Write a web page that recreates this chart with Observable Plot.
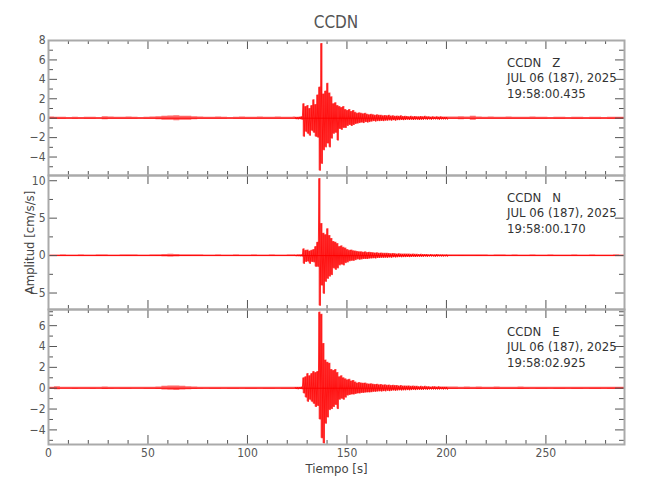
<!DOCTYPE html>
<html><head><meta charset="utf-8">
<script src="https://cdn.jsdelivr.net/npm/d3@7"></script>
<script src="https://cdn.jsdelivr.net/npm/@observablehq/plot@0.6"></script>
<style>
body{margin:0;background:#fff}
#chart{position:relative;width:650px;height:500px;background:#fff;font-family:"Liberation Sans Narrow","DejaVu Sans Condensed","Liberation Sans",sans-serif}
#chart svg{position:absolute;left:0}
#title{position:absolute;top:10px;left:48px;width:576px;text-align:center;line-height:24px;font-size:17px;color:#555}
</style>
</head><body>
<div id="chart"><div id="title">CCDN</div></div>
<script>
// ---- data ----
const title = "CCDN";
const stationInfo = [
  "CCDN\u00a0\u00a0\u00a0Z\nJUL 06 (187), 2025\n19:58:00.435",
  "CCDN\u00a0\u00a0\u00a0N\nJUL 06 (187), 2025\n19:58:00.170",
  "CCDN\u00a0\u00a0\u00a0E\nJUL 06 (187), 2025\n19:58:02.925"
];
const xMajor = [0, 50, 100, 150, 200, 250];
const xMinor = [10,20,30,40,60,70,80,90,110,120,130,140,160,170,180,190,210,220,230,240,260,270,280];
const yMajorZ = [-4,-2,0,2,4,6,8], yMinorZ = [-5,-3,-1,1,3,5,7];
const yMajorN = [-5,0,5,10], yMinorN = [-7.5,-2.5,2.5,7.5];
const yMajorE = [-4,-2,0,2,4,6], yMinorE = [-5,-3,-1,1,3,5,7];

// sample times (s)
const tPre = d3.range(0, 124, 3);     // pre-event noise, every 3 s
const tEvt = d3.range(124, 201, 1);   // event window, every 1 s (max then min)
const tPost = d3.range(203, 290, 3);  // coda tail, every 3 s

// pre-event noise amplitude (cm/s/s)
const zPre = [.12,.1,.1,.08,.1,.08,.1,.1,.08,.15,.12,.1,.1,.12,.1,.08,.1,.12,.15,.2,.22,.25,.2,.2,.15,.12,.1,.1,.12,.1,.08,.1,.12,.1,.1,.12,.1,.1,.12,.1,.1,.12];
const nPre = [.08,.08,.1,.08,.08,.1,.08,.08,.12,.1,.08,.08,.1,.12,.1,.08,.08,.1,.12,.15,.18,.15,.12,.12,.1,.1,.08,.08,.1,.08,.08,.1,.08,.08,.1,.08,.08,.1,.08,.08,.1,.1];
const ePre = [.1,.15,.08,.08,.1,.08,.08,.1,.08,.12,.1,.08,.1,.1,.08,.08,.1,.1,.12,.18,.2,.22,.18,.15,.12,.1,.08,.1,.1,.08,.1,.1,.08,.1,.1,.08,.1,.1,.08,.1,.1,.1];

// event window: per-second maximum and minimum
const zHi = [0.1,0.1,0.12,0.15, 1.5,1.2,1.3,1.0,1.3,1.9,1.4,2.4,3.2,7.7,2.5,2.8,3.6,2.6,2.2,1.5,1.6,1.3,1.2,1.1,1.2,0.9, 0.8,0.9,0.7,0.8,0.6,0.5,0.55,0.5,0.45,0.5, 0.4,0.35,0.4,0.35,0.3,0.35,0.3,0.3,0.25,0.28, 0.25,0.3,0.22,0.25,0.2,0.22,0.2,0.25,0.18,0.2, 0.18,0.15,0.2,0.15,0.18,0.15,0.15,0.18,0.15,0.2, 0.15,0.15,0.12,0.15,0.12,0.15,0.12,0.15,0.12,0.12, 0.12];
const zLo = [-0.1,-0.12,-0.1,-0.15, -1.9,-1.4,-1.6,-1.8,-1.3,-1.5,-1.9,-2.0,-5.4,-4.7,-3.3,-3.0,-2.6,-3.0,-2.1,-1.6,-1.5,-2.3,-1.1,-1.2,-1.0,-1.0, -0.8,-0.7,-0.8,-0.7,-0.6,-0.55,-0.5,-0.45,-0.5,-0.4, -0.45,-0.4,-0.35,-0.3,-0.35,-0.3,-0.3,-0.28,-0.3,-0.25, -0.25,-0.22,-0.25,-0.2,-0.25,-0.2,-0.2,-0.18,-0.2,-0.18, -0.15,-0.18,-0.15,-0.18,-0.15,-0.15,-0.18,-0.15,-0.15,-0.12, -0.15,-0.12,-0.15,-0.12,-0.12,-0.12,-0.15,-0.12,-0.12,-0.12, -0.12];
const nHi = [0.08,0.1,0.1,0.12, 0.9,0.7,0.75,0.6,0.7,0.8,1.2,1.8,10.3,4.3,3.0,2.8,3.6,2.7,2.3,1.9,1.8,1.6,1.2,1.3,1.1,1.0, 0.8,0.7,0.75,0.65,0.6,0.55,0.5,0.5,0.45,0.5, 0.4,0.45,0.4,0.38,0.35,0.38,0.32,0.35,0.3,0.3, 0.3,0.28,0.25,0.28,0.25,0.22,0.25,0.22,0.2,0.22, 0.2,0.2,0.18,0.2,0.18,0.18,0.15,0.18,0.15,0.15, 0.15,0.12,0.15,0.12,0.12,0.15,0.12,0.12,0.12,0.1, 0.12];
const nLo = [-0.08,-0.08,-0.1,-0.12, -1.1,-0.85,-0.8,-1.1,-0.85,-0.9,-1.5,-1.5,-6.7,-4.0,-5.1,-3.5,-3.1,-2.8,-2.6,-1.7,-1.9,-1.7,-1.3,-1.2,-1.3,-1.0, -0.9,-0.75,-0.7,-0.7,-0.6,-0.5,-0.55,-0.5,-0.45,-0.45, -0.45,-0.4,-0.38,-0.35,-0.38,-0.32,-0.32,-0.3,-0.3,-0.28, -0.3,-0.25,-0.28,-0.22,-0.25,-0.22,-0.2,-0.22,-0.2,-0.2, -0.18,-0.2,-0.18,-0.15,-0.18,-0.15,-0.15,-0.15,-0.15,-0.12, -0.15,-0.12,-0.12,-0.12,-0.15,-0.12,-0.1,-0.12,-0.12,-0.1, -0.12];
const eHi = [0.08,0.1,0.1,0.12, 1.0,1.1,1.4,1.2,1.4,1.6,1.5,1.6,7.3,7.1,4.3,2.7,2.5,2.4,1.8,1.7,1.8,1.5,1.1,1.2,1.0,0.9, 0.8,0.85,0.7,0.75,0.6,0.5,0.55,0.5,0.48,0.5, 0.42,0.4,0.42,0.38,0.35,0.38,0.32,0.35,0.3,0.32, 0.28,0.3,0.25,0.28,0.25,0.25,0.22,0.25,0.2,0.22, 0.2,0.22,0.18,0.2,0.18,0.18,0.15,0.18,0.15,0.18, 0.15,0.15,0.12,0.15,0.15,0.12,0.15,0.12,0.12,0.12, 0.12];
const eLo = [-0.08,-0.1,-0.08,-0.1, -0.5,-0.9,-1.3,-1.1,-1.3,-1.5,-1.8,-1.7,-3.0,-4.8,-5.3,-3.4,-2.8,-2.1,-2.0,-1.8,-1.6,-2.0,-1.1,-1.0,-1.1,-0.9, -0.7,-0.65,-0.6,-0.6,-0.55,-0.5,-0.5,-0.45,-0.45,-0.42, -0.4,-0.4,-0.38,-0.35,-0.35,-0.32,-0.3,-0.32,-0.28,-0.3, -0.25,-0.28,-0.25,-0.22,-0.25,-0.22,-0.2,-0.22,-0.2,-0.2, -0.18,-0.2,-0.18,-0.15,-0.18,-0.15,-0.15,-0.15,-0.15,-0.12, -0.15,-0.12,-0.12,-0.12,-0.12,-0.12,-0.12,-0.1,-0.12,-0.1, -0.12];

// coda tail noise amplitude
const zPost = [.12,.15,.12,.2,.12,.1,.12,.1,.1,.12,.1,.1,.1,.12,.1,.1,.08,.1,.1,.08,.1,.1,.08,.1,.1,.08,.1,.1,.1];
const nPost = [.1,.12,.1,.1,.12,.1,.08,.1,.1,.08,.1,.08,.08,.1,.08,.08,.1,.08,.08,.08,.1,.08,.08,.1,.08,.08,.08,.1,.08];
const ePost = [.12,.1,.12,.1,.12,.1,.1,.12,.1,.1,.1,.12,.1,.08,.1,.1,.08,.1,.1,.08,.1,.1,.08,.1,.1,.08,.1,.1,.1];

// ---- build envelope band and min/max zigzag ----
function band(pre, hi, lo, post) {
  const rows = [];
  tPre.forEach((t, i) => rows.push({t, hi: pre[i], lo: -pre[i]}));
  tEvt.forEach((t, i) => rows.push({t, hi: hi[i], lo: lo[i]}));
  tPost.forEach((t, i) => rows.push({t, hi: post[i], lo: -post[i]}));
  rows.push({t: 289.5, hi: post[post.length - 1], lo: -post[post.length - 1]});
  return rows;
}
function zigzag(hi, lo) {
  const rows = [];
  tEvt.forEach((t, i) => { rows.push({t, v: hi[i]}); rows.push({t: t + 0.5, v: lo[i]}); });
  return rows;
}

const FONT = '"Liberation Sans Narrow","DejaVu Sans Condensed","Liberation Sans",sans-serif';
const W = 650, ML = 48, MR = 26;
const innerW = W - ML - MR;
const fmt = d => d < 0 ? "\u2212" + (-d) : String(d);

function panel({top, height, mb = 0, yDomain, yMajor, yMinor, pre, hi, lo, post, info, showX = false, yLabel = false}) {
  const innerH = height - mb;
  const tk = "#555";
  const marks = [
    Plot.areaY(band(pre, hi, lo, post), {x: "t", y1: "lo", y2: "hi", curve: "step-after", fill: "#ff0000", fillOpacity: 0.6, clip: true}),
    Plot.ruleY([0], {stroke: "#ff0000", strokeWidth: 1}),
    Plot.line(zigzag(hi, lo), {x: "t", y: "v", stroke: "#ff0000", strokeWidth: 0.8, clip: true}),
    Plot.tickX(xMinor, {x: d => d, insetTop: innerH - 4, stroke: tk}),
    Plot.tickX(xMinor, {x: d => d, insetBottom: innerH - 4, stroke: tk}),
    Plot.tickX(xMajor, {x: d => d, insetTop: innerH - 9, stroke: tk}),
    Plot.tickX(xMajor, {x: d => d, insetBottom: innerH - 9, stroke: tk}),
    Plot.tickY(yMinor, {y: d => d, insetRight: innerW - 5, stroke: tk}),
    Plot.tickY(yMinor, {y: d => d, insetLeft: innerW - 5, stroke: tk}),
    Plot.tickY(yMajor, {y: d => d, insetRight: innerW - 9, stroke: tk}),
    Plot.tickY(yMajor, {y: d => d, insetLeft: innerW - 9, stroke: tk}),
    Plot.frame({stroke: "#aaa", strokeWidth: 2}),
    Plot.axisY({ticks: yMajor, tickSize: 0, tickPadding: 3, tickFormat: fmt, label: null, fill: "#555", fontSize: 12}),
    Plot.text([info], {x: 230.5, frameAnchor: "top", lineAnchor: "top", textAnchor: "start", dy: 15, fontSize: 13, lineHeight: 1.2, fill: "#333"})
  ];
  if (showX) {
    marks.push(Plot.axisX({ticks: xMajor, tickSize: 0, tickPadding: 4, tickFormat: fmt, label: null, fill: "#555", fontSize: 12}));
    marks.push(Plot.text(["Tiempo [s]"], {frameAnchor: "bottom", textAnchor: "middle", dy: 28, fontSize: 13, fill: "#444"}));
  }
  if (yLabel) {
    marks.push(Plot.text(["Amplitud [cm/s/s]"], {frameAnchor: "left", textAnchor: "middle", dx: -19, rotate: -90, fontSize: 13, fill: "#444"}));
  }
  const svg = Plot.plot({
    width: W, height, marginLeft: ML, marginRight: MR, marginTop: 0, marginBottom: mb,
    style: {overflow: "visible", background: "transparent", fontFamily: FONT, fontSize: "12px", color: "#444"},
    x: {domain: [0, 289.5], axis: showX ? undefined : null},
    y: {domain: yDomain, axis: null},
    marks
  });
  svg.style.top = top + "px";
  document.getElementById("chart").appendChild(svg);
}

document.getElementById("title").textContent = title;
panel({top: 40, height: 135, yDomain: [-5.9, 8], yMajor: yMajorZ, yMinor: yMinorZ, pre: zPre, hi: zHi, lo: zLo, post: zPost, info: stationInfo[0]});
panel({top: 175, height: 134, yDomain: [-7.2, 10.7], yMajor: yMajorN, yMinor: yMinorN, pre: nPre, hi: nHi, lo: nLo, post: nPost, info: stationInfo[1], yLabel: true});
panel({top: 309, height: 191, mb: 56, yDomain: [-5.4, 7.55], yMajor: yMajorE, yMinor: yMinorE, pre: ePre, hi: eHi, lo: eLo, post: ePost, info: stationInfo[2], showX: true});
</script>
</body></html>
